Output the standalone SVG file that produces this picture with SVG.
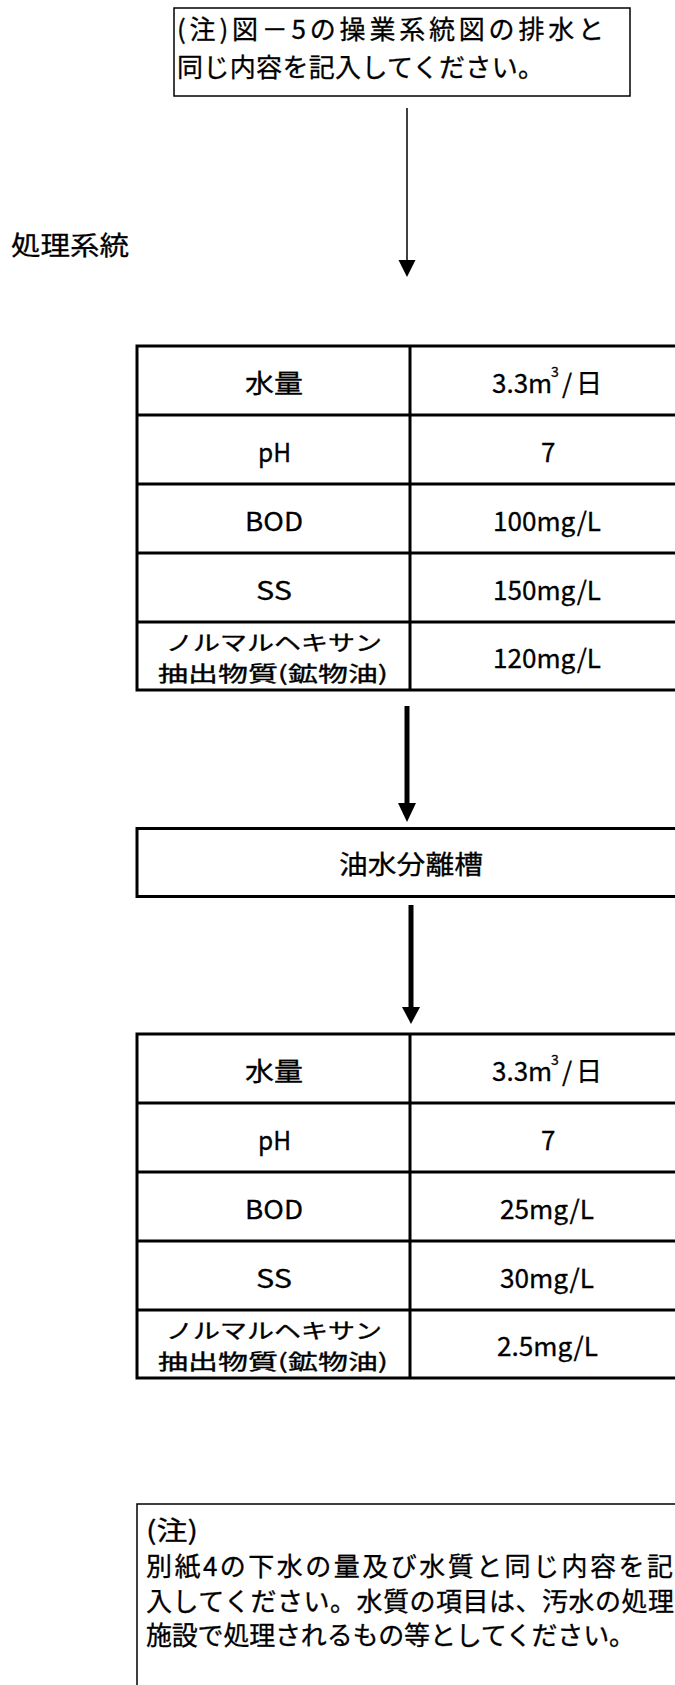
<svg xmlns="http://www.w3.org/2000/svg" width="675" height="1685" viewBox="0 0 675 1685">
<style>
  text { font-family: "Noto Sans CJK JP", "Noto Sans", sans-serif; font-size: 26px; fill: #000; stroke: #000; stroke-width: 0.3; dominant-baseline: central; }
  .two { font-size: 21px; stroke-width: 0.35; }
  .thin { fill: none; stroke: #000; stroke-width: 1.5; }
  .thick { fill: none; stroke: #000; stroke-width: 3; }
  .sup { font-size: 14px; }
  .tip { fill: #000; }
</style>
<rect width="675" height="1685" fill="#fff"/>

<g id="connectors">
  <line x1="407" y1="108" x2="407" y2="262" stroke="#000" stroke-width="1.5"/>
  <path class="tip" d="M398.5,260 L415.5,260 L407,277 Z"/>
  <line x1="407" y1="706" x2="407" y2="805" stroke="#000" stroke-width="5"/>
  <path class="tip" d="M398,803 L416,803 L407,822 Z"/>
  <line x1="411" y1="905" x2="411" y2="1009" stroke="#000" stroke-width="5"/>
  <path class="tip" d="M402,1007 L420,1007 L411,1024 Z"/>
</g>

<g id="note-top">
  <rect class="thin" x="174" y="8" width="456" height="88"/>
  <text x="177" y="27" textLength="427" lengthAdjust="spacing">(注)図－5の操業系統図の排水と</text>
  <text x="177" y="65" textLength="367" lengthAdjust="spacing">同じ内容を記入してください。</text>
</g>

<g id="label-system">
  <text x="11" y="243" textLength="118" lengthAdjust="spacingAndGlyphs">処理系統</text>
</g>

<g id="table-before">
  <rect class="thick" x="137" y="346" width="560" height="344"/>
  <line class="thick" x1="137" y1="415" x2="697" y2="415"/>
  <line class="thick" x1="137" y1="484" x2="697" y2="484"/>
  <line class="thick" x1="137" y1="553" x2="697" y2="553"/>
  <line class="thick" x1="137" y1="622" x2="697" y2="622"/>
  <line class="thick" x1="410" y1="346" x2="410" y2="690"/>
  <text x="245" y="381" textLength="58" lengthAdjust="spacingAndGlyphs">水量</text>
  <text x="258" y="450" textLength="33" lengthAdjust="spacingAndGlyphs">pH</text>
  <text x="245" y="519" textLength="58" lengthAdjust="spacingAndGlyphs">BOD</text>
  <text x="256" y="588" textLength="36" lengthAdjust="spacingAndGlyphs">SS</text>
  <text class="two" x="166" y="640.5" textLength="216" lengthAdjust="spacingAndGlyphs">ノルマルヘキサン</text>
  <text class="two" x="158" y="671.5" textLength="230" lengthAdjust="spacingAndGlyphs">抽出物質(鉱物油)</text>
  <text y="381"><tspan x="492">3.3m</tspan><tspan class="sup" x="551" dy="-10">3</tspan><tspan x="562" dy="10">/</tspan><tspan x="576">日</tspan></text>
  <text x="541" y="450">7</text>
  <text x="493" y="519" textLength="108" lengthAdjust="spacingAndGlyphs">100mg/L</text>
  <text x="493" y="588" textLength="108" lengthAdjust="spacingAndGlyphs">150mg/L</text>
  <text x="493" y="656" textLength="108" lengthAdjust="spacingAndGlyphs">120mg/L</text>
</g>

<g id="separator">
  <rect class="thick" x="137" y="828.5" width="560" height="68"/>
  <text x="339" y="862" textLength="144" lengthAdjust="spacingAndGlyphs">油水分離槽</text>
</g>

<g id="table-after">
  <rect class="thick" x="137" y="1034" width="560" height="344"/>
  <line class="thick" x1="137" y1="1103" x2="697" y2="1103"/>
  <line class="thick" x1="137" y1="1172" x2="697" y2="1172"/>
  <line class="thick" x1="137" y1="1241" x2="697" y2="1241"/>
  <line class="thick" x1="137" y1="1310" x2="697" y2="1310"/>
  <line class="thick" x1="410" y1="1034" x2="410" y2="1378"/>
  <text x="245" y="1069" textLength="58" lengthAdjust="spacingAndGlyphs">水量</text>
  <text x="258" y="1138" textLength="33" lengthAdjust="spacingAndGlyphs">pH</text>
  <text x="245" y="1207" textLength="58" lengthAdjust="spacingAndGlyphs">BOD</text>
  <text x="256" y="1276" textLength="36" lengthAdjust="spacingAndGlyphs">SS</text>
  <text class="two" x="166" y="1328.5" textLength="216" lengthAdjust="spacingAndGlyphs">ノルマルヘキサン</text>
  <text class="two" x="158" y="1359.5" textLength="230" lengthAdjust="spacingAndGlyphs">抽出物質(鉱物油)</text>
  <text y="1069"><tspan x="492">3.3m</tspan><tspan class="sup" x="551" dy="-10">3</tspan><tspan x="562" dy="10">/</tspan><tspan x="576">日</tspan></text>
  <text x="541" y="1138">7</text>
  <text x="500" y="1207" textLength="94" lengthAdjust="spacingAndGlyphs">25mg/L</text>
  <text x="500" y="1276" textLength="94" lengthAdjust="spacingAndGlyphs">30mg/L</text>
  <text x="497" y="1344" textLength="101" lengthAdjust="spacingAndGlyphs">2.5mg/L</text>
</g>

<g id="note-bottom">
  <rect class="thin" x="137" y="1504" width="600" height="250"/>
  <text x="146" y="1528" textLength="52" lengthAdjust="spacingAndGlyphs">(注)</text>
  <text x="146" y="1564" textLength="527" lengthAdjust="spacing">別紙4の下水の量及び水質と同じ内容を記</text>
  <text x="146" y="1599" textLength="528" lengthAdjust="spacing">入してください。水質の項目は、汚水の処理</text>
  <text x="146" y="1633" textLength="489" lengthAdjust="spacing">施設で処理されるもの等としてください。</text>
</g>
</svg>
